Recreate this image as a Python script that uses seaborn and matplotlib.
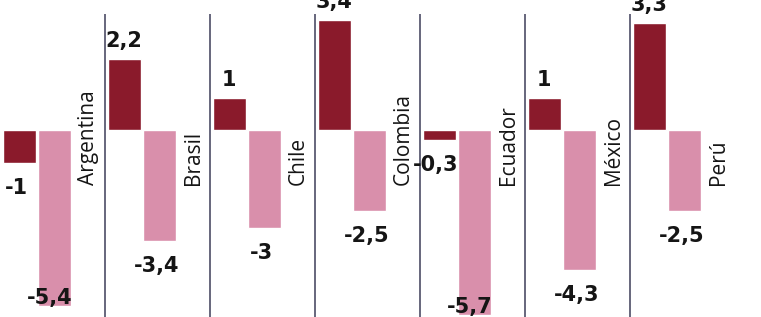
import matplotlib
matplotlib.use('Agg')
import pandas as pd
import seaborn as sns
import matplotlib.pyplot as plt

# Data
paises = ['Argentina', 'Brasil', 'Chile', 'Colombia', 'Ecuador', 'México', 'Perú']
serie_1 = [-1, 2.2, 1, 3.4, -0.3, 1, 3.3]
serie_2 = [-5.4, -3.4, -3, -2.5, -5.7, -4.3, -2.5]

df = pd.DataFrame({
    'pais': paises * 2,
    'serie': ['s1'] * len(paises) + ['s2'] * len(paises),
    'valor': serie_1 + serie_2,
})

sns.set_style('white')
plt.rcParams['font.family'] = ['DejaVu Sans']

fig = plt.figure(figsize=(7.61, 3.17), dpi=100)
ax = fig.add_axes([0, 0, 1, 1])

sns.barplot(data=df, x='pais', y='valor', hue='serie', order=paises,
            palette={'s1': '#8a1a2b', 's2': '#d98fab'},
            width=0.68, gap=0.08, saturation=1, legend=False, ax=ax,
            errorbar=None)

ax.set_xlim(-0.352, 6.895)
ax.set_ylim(-5.75, 4.0)
ax.axis('off')

# separators between countries
for i in range(len(paises) - 1):
    ax.plot([i + 0.65, i + 0.65], [-5.75, 3.57], color='#5a5a72', lw=1.3,
            solid_capstyle='butt')

# country names, vertical
for i, p in enumerate(paises):
    ax.text(i + 0.49, -1.69, p, rotation=90, ha='center', va='bottom',
            fontsize=15, family='Open Sans', color='#151515')

# value labels
for bar in ax.patches:
    h = bar.get_height()
    if bar.get_width() == 0:
        continue
    xc = bar.get_x() + bar.get_width() / 2
    txt = f'{h:g}'.replace('.', ',')
    if h >= 0:
        ax.annotate(txt, (xc, h), xytext=(0, 8), textcoords='offset pixels',
                    ha='center', va='bottom', fontsize=15, fontweight='bold',
                    color='#151515', annotation_clip=False)
    elif h < -5:
        # long bars: label sits over the bar end, as in the print
        ax.annotate(txt, (xc - 0.05, h), xytext=(0, 8), textcoords='offset pixels',
                    ha='center', va='center', fontsize=15, fontweight='bold',
                    color='#151515', annotation_clip=False)
    else:
        ax.annotate(txt, (xc - 0.03, h), xytext=(0, -15), textcoords='offset pixels',
                    ha='center', va='top', fontsize=15, fontweight='bold',
                    color='#151515', annotation_clip=False)

plt.savefig('out.png', dpi=100)
plt.close()
